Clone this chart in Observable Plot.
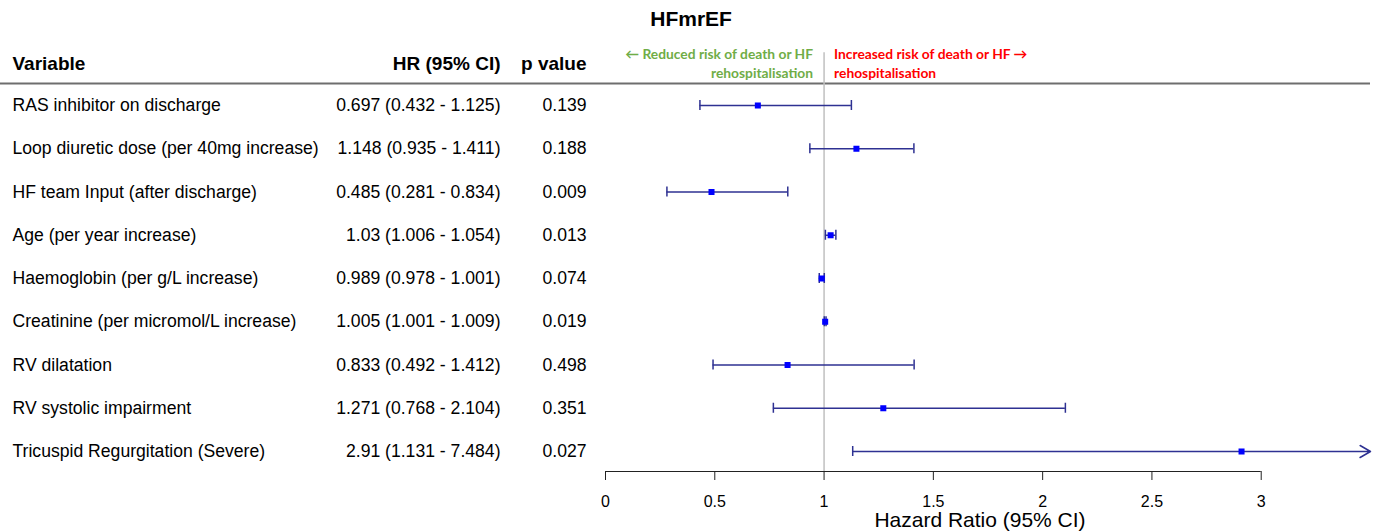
<!DOCTYPE html>
<html><head><meta charset="utf-8">
<script src="https://cdn.jsdelivr.net/npm/d3@7"></script>
<script src="https://cdn.jsdelivr.net/npm/@observablehq/plot@0.6"></script>
<style>
body{margin:0;background:#fff;}
#chart svg{display:block;}
</style>
</head><body><div id="chart"></div>
<script>
const title = "HFmrEF";
const variables = [
  "RAS inhibitor on discharge",
  "Loop diuretic dose (per 40mg increase)",
  "HF team Input (after discharge)",
  "Age (per year increase)",
  "Haemoglobin (per g/L increase)",
  "Creatinine (per micromol/L increase)",
  "RV dilatation",
  "RV systolic impairment",
  "Tricuspid Regurgitation (Severe)"
];
const hr    = [0.697, 1.148, 0.485, 1.03, 0.989, 1.005, 0.833, 1.271, 2.91];
const lower = [0.432, 0.935, 0.281, 1.006, 0.978, 1.001, 0.492, 0.768, 1.131];
const upper = [1.125, 1.411, 0.834, 1.054, 1.001, 1.009, 1.412, 2.104, 7.484];
const hrLabels = [
  "0.697 (0.432 - 1.125)",
  "1.148 (0.935 - 1.411)",
  "0.485 (0.281 - 0.834)",
  "1.03 (1.006 - 1.054)",
  "0.989 (0.978 - 1.001)",
  "1.005 (1.001 - 1.009)",
  "0.833 (0.492 - 1.412)",
  "1.271 (0.768 - 2.104)",
  "2.91 (1.131 - 7.484)"
];
const pValues = ["0.139","0.188","0.009","0.013","0.074","0.019","0.498","0.351","0.027"];
const headers = ["Variable", "HR (95% CI)", "p value"];
const leftNote = "← Reduced risk of death or HF\nrehospitalisation";
const rightNote = "Increased risk of death or HF →\nrehospitalisation";
const xTicks = [0, 0.5, 1, 1.5, 2, 2.5, 3];
const xMax = 3.5;
const refValue = 1;
const xLabel = "Hazard Ratio (95% CI)";

const rows = variables.map((v, i) => ({
  row: i, variable: v, hr: hr[i], lower: lower[i], upper: upper[i],
  hrLabel: hrLabels[i], p: pValues[i], clipped: upper[i] > xMax
}));
const yBottom = 8.4624;
const arial = "'Liberation Sans', Arial, sans-serif";
const noteFont = "Lato, 'Open Sans', sans-serif";
const lineColor = "#2e3192";
const dotColor = "#0000ff";

const plot = Plot.plot({
  width: 1376,
  height: 532,
  marginLeft: 605,
  marginRight: 6,
  marginTop: 105,
  marginBottom: 61,
  style: {fontFamily: arial, background: "#fff"},
  x: {domain: [0, xMax], axis: null},
  y: {type: "linear", domain: [0, yBottom], reverse: true, axis: null},
  marks: [
    // title
    Plot.text([title], {x: refValue, y: -2, dx: -133, text: d => d, fontSize: 21, fontWeight: "bold", fill: "#000"}),
    // header separator line
    Plot.ruleY([-0.51], {stroke: "#6e6e6e", strokeWidth: 2, insetLeft: -605}),
    // reference line
    Plot.ruleX([refValue], {y1: -1.22, y2: yBottom, stroke: "#c0c0c0", strokeWidth: 1.5}),
    // header texts
    Plot.text([headers[0]], {frameAnchor: "left", y: -0.97, dx: -593, text: d => d, textAnchor: "start", fontSize: 19, fontWeight: "bold"}),
    Plot.text([headers[1]], {frameAnchor: "left", y: -0.97, dx: -105, text: d => d, textAnchor: "end", fontSize: 19, fontWeight: "bold"}),
    Plot.text([headers[2]], {frameAnchor: "left", y: -0.97, dx: -19, text: d => d, textAnchor: "end", fontSize: 19, fontWeight: "bold"}),
    // direction notes
    Plot.text([leftNote], {x: refValue, y: -1, dx: -11, text: d => d, textAnchor: "end", fontSize: 13.8, fontWeight: "bold", fill: "#70ad47", lineHeight: 1.4, fontFamily: noteFont}),
    Plot.text([rightNote], {x: refValue, y: -1, dx: 10, text: d => d, textAnchor: "start", fontSize: 13.8, fontWeight: "bold", fill: "#ff0000", lineHeight: 1.4, fontFamily: noteFont}),
    // table columns
    Plot.text(rows, {frameAnchor: "left", y: "row", dx: -593, text: "variable", textAnchor: "start", fontSize: 17.6}),
    Plot.text(rows, {frameAnchor: "left", y: "row", dx: -105, text: "hrLabel", textAnchor: "end", fontSize: 17.6}),
    Plot.text(rows, {frameAnchor: "left", y: "row", dx: -19, text: "p", textAnchor: "end", fontSize: 17.6}),
    // confidence intervals
    Plot.ruleY(rows.filter(d => !d.clipped), {y: "row", x1: "lower", x2: "upper", stroke: lineColor, strokeWidth: 1.5}),
    Plot.arrow(rows.filter(d => d.clipped), {y1: "row", y2: "row", x1: "lower", x2: () => xMax, stroke: lineColor, strokeWidth: 1.5, headLength: 12, headAngle: 60, insetEnd: 0}),
    Plot.ruleX(rows, {x: "lower", y1: d => d.row - 0.116, y2: d => d.row + 0.116, stroke: lineColor, strokeWidth: 1.5}),
    Plot.ruleX(rows.filter(d => !d.clipped), {x: "upper", y1: d => d.row - 0.116, y2: d => d.row + 0.116, stroke: lineColor, strokeWidth: 1.5}),
    Plot.dot(rows, {x: "hr", y: "row", symbol: "square", r: 3.4, fill: dotColor, stroke: "none"}),
    // x axis
    Plot.ruleY([yBottom], {x1: () => xTicks[0], x2: () => xTicks[xTicks.length - 1], stroke: "#222", strokeWidth: 1.2}),
    Plot.axisX({ticks: xTicks, tickSize: 9, tickPadding: 15, tickFormat: d => String(d), fontSize: 16, label: null, stroke: "#222"}),
    Plot.text([xLabel], {frameAnchor: "bottom", dy: 55, text: d => d, fontSize: 21, dx: -8})
  ]
});
document.getElementById("chart").appendChild(plot);
</script>
</body></html>
